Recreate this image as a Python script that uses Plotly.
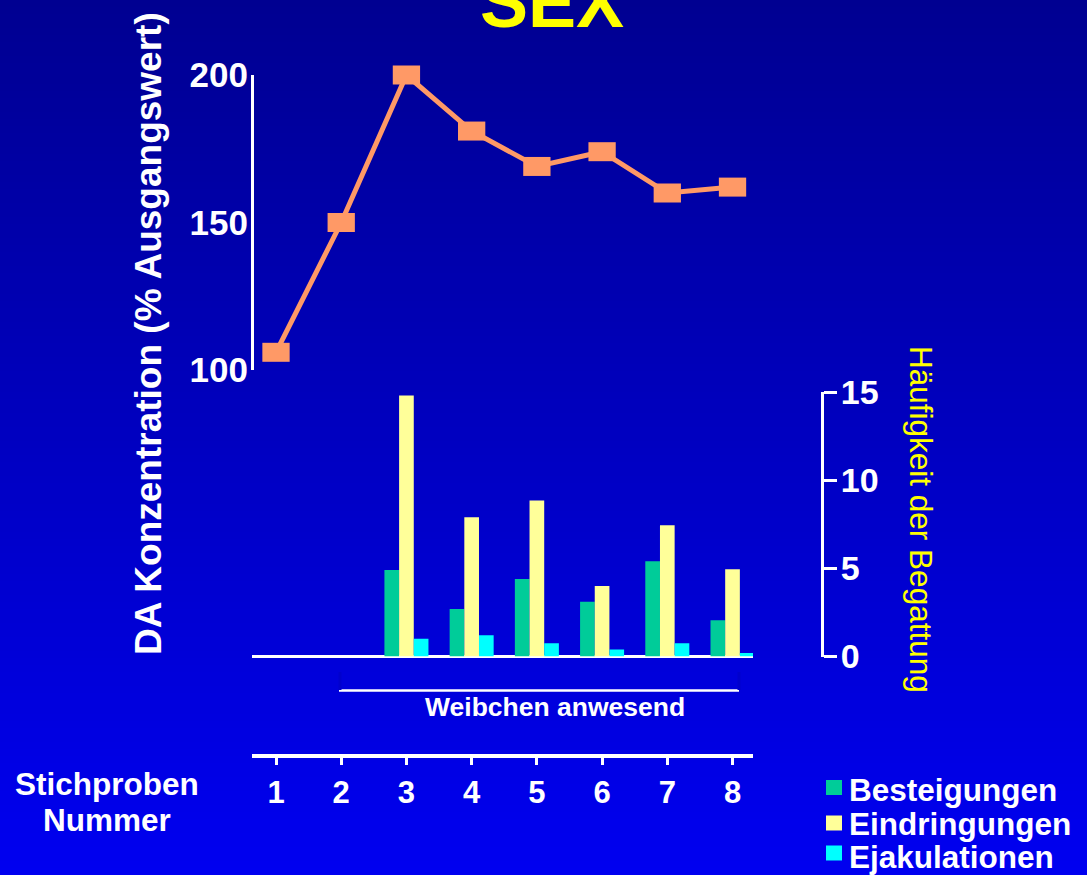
import plotly.graph_objects as go

W, H = 1087, 875
FONT = "Liberation Sans, Arial, sans-serif"

# ---------------- data ----------------
samples = [1, 2, 3, 4, 5, 6, 7, 8]
tick_labels = ["1", "2", "3", "4", "5", "6", "7", "8"]
da_konzentration = [106, 150, 200, 181, 169, 174, 160, 162]
besteigungen = [0, 0, 4.9, 2.7, 4.4, 3.1, 5.4, 2.05]
eindringungen = [0, 0, 14.8, 7.9, 8.85, 4.0, 7.45, 4.95]
ejakulationen = [0, 0, 1.0, 1.2, 0.75, 0.4, 0.75, 0.2]
series_names = ["Besteigungen", "Eindringungen", "Ejakulationen"]
series_colors = ["#00CC99", "#FFFF99", "#00FFFF"]
line_color = "#FF9966"
left_ticks = [100, 150, 200]
right_ticks = [0, 5, 10, 15]


def X(px):
    return px / W


def Y(py):
    return 1 - py / H


fig = go.Figure()

for name, vals, col in zip(series_names, [besteigungen, eindringungen, ejakulationen], series_colors):
    fig.add_trace(go.Bar(x=samples, y=vals, name=name, marker=dict(color=col, line=dict(width=0)),
                         xaxis="x", yaxis="y2", showlegend=False))

fig.add_trace(go.Scatter(
    x=samples, y=da_konzentration, mode="lines+markers", xaxis="x", yaxis="y",
    line=dict(color=line_color, width=5),
    marker=dict(symbol="line-ew", size=19.5, color=line_color, line=dict(color=line_color, width=19)),
    cliponaxis=False, showlegend=False))

# ---------------- background gradient ----------------
shapes = []
N = 125
c_top, c_bot = 145, 240
for i in range(N):
    b = round(c_top + (c_bot - c_top) * i / (N - 1))
    shapes.append(dict(type="rect", xref="paper", yref="paper", x0=-0.01, x1=1.01,
                       y0=1 - (i + 1) / N - 0.002, y1=1 - i / N + (0.01 if i == 0 else 0),
                       fillcolor=f"rgb(0,0,{b})", line=dict(width=0), layer="below"))

# Weibchen anwesend bracket
shapes.append(dict(type="line", xref="paper", yref="paper", x0=X(339), x1=X(739), y0=Y(690.5), y1=Y(690.5),
                   line=dict(color="white", width=2.5)))
for xp in (340, 739):
    shapes.append(dict(type="line", xref="paper", yref="paper", x0=X(xp), x1=X(xp), y0=Y(672), y1=Y(690),
                       line=dict(color="rgb(0,0,205)", width=3)))

# legend squares
legend_y = [790, 823.5, 857]
square_y = [787.5, 823, 853]
for yc, col in zip(square_y, series_colors):
    shapes.append(dict(type="rect", xref="paper", yref="paper", x0=X(826), x1=X(842),
                       y0=Y(yc + 7.5), y1=Y(yc - 7.5), fillcolor=col, line=dict(width=0)))

annotations = []
for yc, name in zip(legend_y, series_names):
    annotations.append(dict(text=name, xref="paper", yref="paper", x=X(847), y=Y(yc),
                            xanchor="left", yanchor="middle", showarrow=False,
                            font=dict(family=FONT, size=31.5, color="white", weight="bold")))

annotations += [
    dict(text="SEX", xref="paper", yref="paper", x=X(552), y=Y(44), xanchor="center", yanchor="bottom",
         showarrow=False, font=dict(family=FONT, size=72, color="#FFFF00", weight="bold")),
    dict(text="DA Konzentration (% Ausgangswert)", xref="paper", yref="paper", x=X(149), y=Y(334),
         xanchor="center", yanchor="middle", textangle=-90, showarrow=False,
         font=dict(family=FONT, size=37, color="white", weight="bold")),
    dict(text="Häufigkeit der Begattung", xref="paper", yref="paper", x=X(921), y=Y(519),
         xanchor="center", yanchor="middle", textangle=90, showarrow=False,
         font=dict(family=FONT, size=31.5, color="#FFFF00")),
    dict(text="Weibchen anwesend", xref="paper", yref="paper", x=X(555), y=Y(706.5),
         xanchor="center", yanchor="middle", showarrow=False,
         font=dict(family=FONT, size=26.5, color="white", weight="bold")),
    dict(text="Stichproben", xref="paper", yref="paper", x=X(107), y=Y(784),
         xanchor="center", yanchor="middle", showarrow=False,
         font=dict(family=FONT, size=31.5, color="white", weight="bold")),
    dict(text="Nummer", xref="paper", yref="paper", x=X(107), y=Y(819.5),
         xanchor="center", yanchor="middle", showarrow=False,
         font=dict(family=FONT, size=31.5, color="white", weight="bold")),
]

fig.update_layout(
    template="none",
    width=W, height=H, autosize=False,
    margin=dict(l=0, r=0, t=0, b=0, pad=0, autoexpand=False),
    paper_bgcolor="rgb(0,0,195)", plot_bgcolor="rgba(0,0,0,0)",
    barmode="group", bargap=0.325, bargroupgap=0,
    shapes=shapes, annotations=annotations, showlegend=False,
    xaxis=dict(domain=[X(252), X(753)], range=[0.632, 8.314], anchor="free", position=Y(755.5),
               automargin=False,
               showline=True, linecolor="white", linewidth=3.5, ticks="outside", ticklen=8,
               tickwidth=3, tickcolor="white", tickvals=samples, ticktext=tick_labels,
               ticklabelstandoff=1,
               showgrid=False, zeroline=False,
               tickfont=dict(family=FONT, size=31, color="white", weight="bold")),
    yaxis=dict(domain=[Y(370), Y(75)], range=[100, 200], anchor="free", position=X(252),
               automargin=False,
               showline=True, linecolor="white", linewidth=3, ticks="", tickvals=left_ticks,
               ticklabelstandoff=-4,
               showgrid=False, zeroline=False,
               tickfont=dict(family=FONT, size=35, color="white", weight="bold")),
    yaxis2=dict(domain=[Y(656.5), Y(392)], range=[0, 15], anchor="free", position=X(822), side="right",
                automargin=False,
                showline=True, linecolor="white", linewidth=3, ticks="outside", ticklen=13, tickwidth=3,
                tickcolor="white", tickvals=right_ticks, showgrid=False, ticklabelstandoff=-3,
                zeroline=True, zerolinecolor="white", zerolinewidth=3,
                tickfont=dict(family=FONT, size=34, color="white", weight="bold")),
)

fig.write_html("out.html", config={"displayModeBar": False},
               post_script="document.body.style.margin='0px';document.body.style.overflow='hidden';")
